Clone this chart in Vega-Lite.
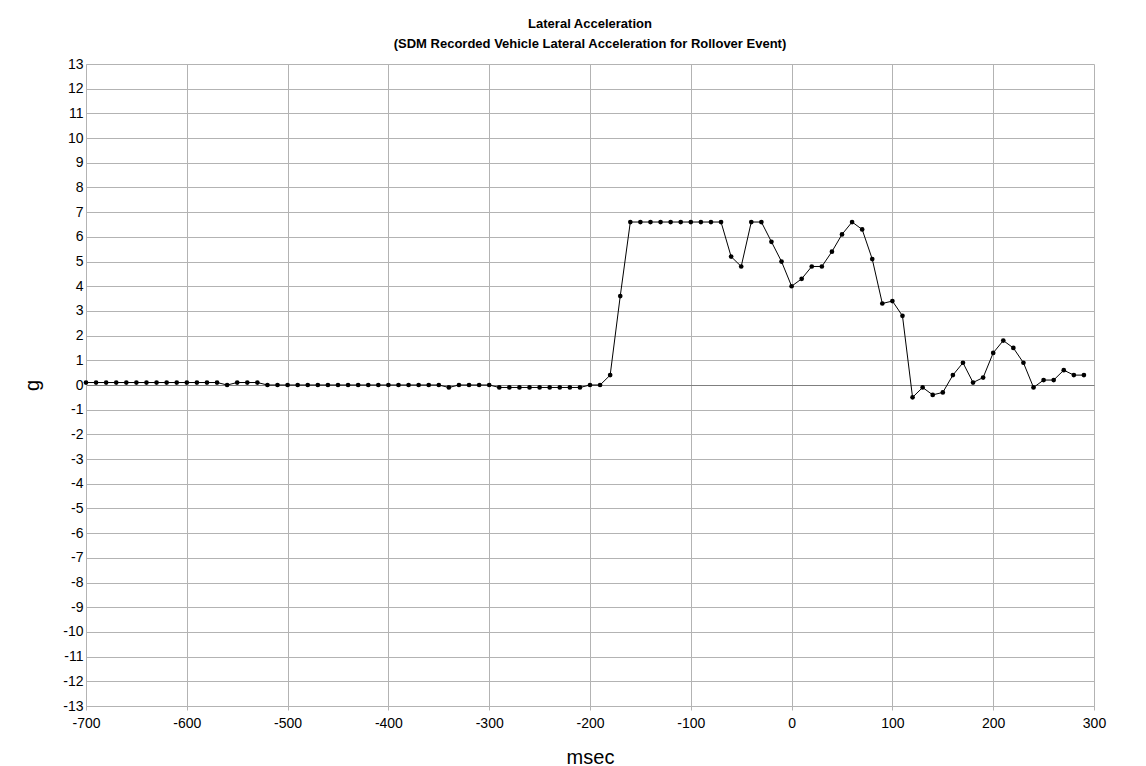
{
  "$schema": "https://vega.github.io/schema/vega-lite/v6.json",
  "autosize": {"type": "none"},
  "padding": {"left": 86, "top": 64, "right": 52, "bottom": 60},
  "width": 1008,
  "height": 642,
  "background": "white",
  "title": {
    "text": ["Lateral Acceleration", "(SDM Recorded Vehicle Lateral Acceleration for Rollover Event)"],
    "font": "Liberation Sans",
    "fontSize": 13,
    "fontWeight": "bold",
    "color": "black",
    "anchor": "middle",
    "frame": "group",
    "lineHeight": 20,
    "offset": 6
  },
  "config": {
    "view": {"stroke": null},
    "axis": {"labelFont": "Liberation Sans", "titleFont": "Liberation Sans", "labelColor": "black", "titleColor": "black", "titleFontWeight": "normal"}
  },
  "data": {
    "values": [
      {"msec": -700, "g": 0.1}, {"msec": -690, "g": 0.1}, {"msec": -680, "g": 0.1}, {"msec": -670, "g": 0.1},
      {"msec": -660, "g": 0.1}, {"msec": -650, "g": 0.1}, {"msec": -640, "g": 0.1}, {"msec": -630, "g": 0.1},
      {"msec": -620, "g": 0.1}, {"msec": -610, "g": 0.1}, {"msec": -600, "g": 0.1}, {"msec": -590, "g": 0.1},
      {"msec": -580, "g": 0.1}, {"msec": -570, "g": 0.1}, {"msec": -560, "g": 0.0}, {"msec": -550, "g": 0.1},
      {"msec": -540, "g": 0.1}, {"msec": -530, "g": 0.1}, {"msec": -520, "g": 0.0}, {"msec": -510, "g": 0.0},
      {"msec": -500, "g": 0.0}, {"msec": -490, "g": 0.0}, {"msec": -480, "g": 0.0}, {"msec": -470, "g": 0.0},
      {"msec": -460, "g": 0.0}, {"msec": -450, "g": 0.0}, {"msec": -440, "g": 0.0}, {"msec": -430, "g": 0.0},
      {"msec": -420, "g": 0.0}, {"msec": -410, "g": 0.0}, {"msec": -400, "g": 0.0}, {"msec": -390, "g": 0.0},
      {"msec": -380, "g": 0.0}, {"msec": -370, "g": 0.0}, {"msec": -360, "g": 0.0}, {"msec": -350, "g": 0.0},
      {"msec": -340, "g": -0.1}, {"msec": -330, "g": 0.0}, {"msec": -320, "g": 0.0}, {"msec": -310, "g": 0.0},
      {"msec": -300, "g": 0.0}, {"msec": -290, "g": -0.1}, {"msec": -280, "g": -0.1}, {"msec": -270, "g": -0.1},
      {"msec": -260, "g": -0.1}, {"msec": -250, "g": -0.1}, {"msec": -240, "g": -0.1}, {"msec": -230, "g": -0.1},
      {"msec": -220, "g": -0.1}, {"msec": -210, "g": -0.1}, {"msec": -200, "g": 0.0}, {"msec": -190, "g": 0.0},
      {"msec": -180, "g": 0.4}, {"msec": -170, "g": 3.6}, {"msec": -160, "g": 6.6}, {"msec": -150, "g": 6.6},
      {"msec": -140, "g": 6.6}, {"msec": -130, "g": 6.6}, {"msec": -120, "g": 6.6}, {"msec": -110, "g": 6.6},
      {"msec": -100, "g": 6.6}, {"msec": -90, "g": 6.6}, {"msec": -80, "g": 6.6}, {"msec": -70, "g": 6.6},
      {"msec": -60, "g": 5.2}, {"msec": -50, "g": 4.8}, {"msec": -40, "g": 6.6}, {"msec": -30, "g": 6.6},
      {"msec": -20, "g": 5.8}, {"msec": -10, "g": 5.0}, {"msec": 0, "g": 4.0}, {"msec": 10, "g": 4.3},
      {"msec": 20, "g": 4.8}, {"msec": 30, "g": 4.8}, {"msec": 40, "g": 5.4}, {"msec": 50, "g": 6.1},
      {"msec": 60, "g": 6.6}, {"msec": 70, "g": 6.3}, {"msec": 80, "g": 5.1}, {"msec": 90, "g": 3.3},
      {"msec": 100, "g": 3.4}, {"msec": 110, "g": 2.8}, {"msec": 120, "g": -0.5}, {"msec": 130, "g": -0.1},
      {"msec": 140, "g": -0.4}, {"msec": 150, "g": -0.3}, {"msec": 160, "g": 0.4}, {"msec": 170, "g": 0.9},
      {"msec": 180, "g": 0.1}, {"msec": 190, "g": 0.3}, {"msec": 200, "g": 1.3}, {"msec": 210, "g": 1.8},
      {"msec": 220, "g": 1.5}, {"msec": 230, "g": 0.9}, {"msec": 240, "g": -0.1}, {"msec": 250, "g": 0.2},
      {"msec": 260, "g": 0.2}, {"msec": 270, "g": 0.6}, {"msec": 280, "g": 0.4}, {"msec": 290, "g": 0.4}
    ]
  },
  "encoding": {
    "x": {
      "field": "msec", "type": "quantitative",
      "scale": {"domain": [-700, 300], "nice": false, "zero": false},
      "axis": {
        "title": "msec", "titleFontSize": 20, "titleY": 57, "titleBaseline": "alphabetic",
        "values": [-700, -600, -500, -400, -300, -200, -100, 0, 100, 200, 300],
        "labelExpr": "'' + datum.value",
        "labelFontSize": 14, "labelPadding": 6, "tickSize": 4, "tickColor": "#b3b3b3",
        "grid": true, "gridColor": "#b3b3b3", "gridWidth": 1,
        "domainColor": "#b3b3b3", "labelFlush": false
      }
    },
    "y": {
      "field": "g", "type": "quantitative",
      "scale": {"domain": [-13, 13], "nice": false},
      "axis": {
        "title": "g", "titleFontSize": 20, "titleX": -54, "titleBaseline": "middle",
        "values": [-13, -12, -11, -10, -9, -8, -7, -6, -5, -4, -3, -2, -1, 0, 1, 2, 3, 4, 5, 6, 7, 8, 9, 10, 11, 12, 13],
        "labelExpr": "'' + datum.value",
        "labelFontSize": 14, "labelPadding": 3, "ticks": false,
        "grid": true,
        "gridColor": {"condition": {"test": "datum.value === 0", "value": "#7f7f7f"}, "value": "#b3b3b3"},
        "gridWidth": 1,
        "domainColor": "#b3b3b3", "labelFlush": false
      }
    }
  },
  "layer": [
    {"mark": {"type": "line", "color": "black", "strokeWidth": 1}},
    {"mark": {"type": "point", "filled": true, "color": "black", "size": 22, "opacity": 1}}
  ]
}
